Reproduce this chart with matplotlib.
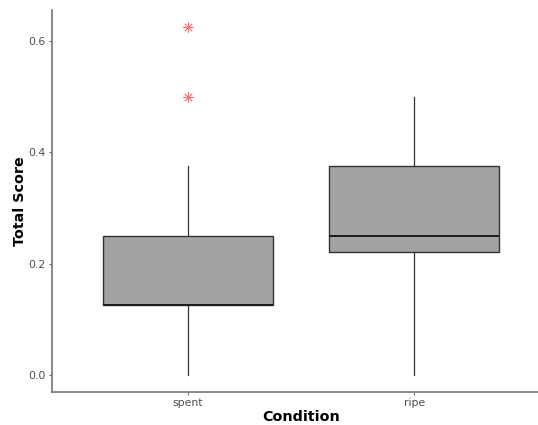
import matplotlib
matplotlib.use("Agg")
import matplotlib.pyplot as plt

# box summaries per condition
conditions = ["spent", "ripe"]
whisker_low = [0.0, 0.0]
q1 = [0.125, 0.22]
median = [0.125, 0.25]
q3 = [0.25, 0.375]
whisker_high = [0.375, 0.5]
outliers = [[0.5, 0.625], []]

stats = []
for i, name in enumerate(conditions):
    stats.append({
        "label": name,
        "whislo": whisker_low[i],
        "q1": q1[i],
        "med": median[i],
        "q3": q3[i],
        "whishi": whisker_high[i],
        "fliers": outliers[i],
    })

fig = plt.figure(figsize=(5.38, 4.25), dpi=100)
# panel runs a little past the right edge of the canvas
ax = fig.add_axes([0.0967, 0.0776, 0.9256, 0.8988])

ax.bxp(
    stats,
    positions=[1, 2],
    widths=0.75,
    patch_artist=True,
    showcaps=False,
    boxprops=dict(facecolor="#a3a3a3", edgecolor="#333333", linewidth=1.0),
    whiskerprops=dict(color="#333333", linewidth=0.9),
    medianprops=dict(color="#1a1a1a", linewidth=1.4),
    flierprops=dict(marker=(8, 2, 0), markersize=7.5, markeredgecolor="#ff7070",
                    markerfacecolor="none", markeredgewidth=0.6, linestyle="none"),
)

ax.set_xlim(0.4, 2.6)
ax.set_ylim(-0.03125, 0.65625)
ax.set_yticks([0.0, 0.2, 0.4, 0.6])
ax.set_yticklabels(["0.0", "0.2", "0.4", "0.6"])
ax.set_xticks([1, 2])
ax.set_xticklabels(conditions)

for side in ["top", "right"]:
    ax.spines[side].set_visible(False)
for side in ["left", "bottom"]:
    ax.spines[side].set_color("#7f7f7f")
    ax.spines[side].set_linewidth(1.3)

ax.tick_params(axis="both", colors="#4d4d4d", labelsize=7.8, length=2.5, width=0.6, pad=2)

ax.set_xlabel("Condition", fontsize=10.3, fontweight="bold", labelpad=1)
ax.set_ylabel("Total Score", fontsize=10.3, fontweight="bold", labelpad=1)

fig.savefig("out.png", dpi=100)
